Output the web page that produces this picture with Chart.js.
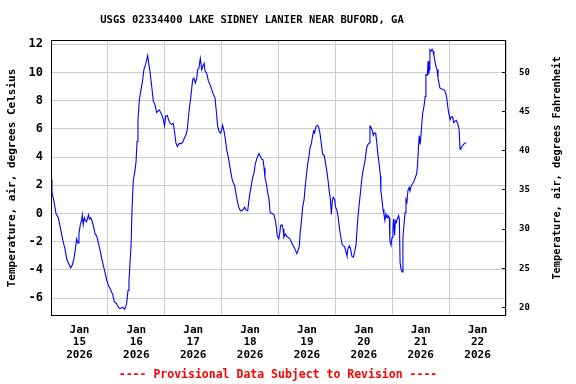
<!DOCTYPE html>
<html>
<head>
<meta charset="utf-8">
<script src="https://cdn.jsdelivr.net/npm/chart.js@4.4.1/dist/chart.umd.min.js"></script>
<style>
  html, body { margin: 0; padding: 0; background: #fff; }
  #wrap { width: 576px; height: 384px; }
</style>
</head>
<body>
<div id="wrap"><canvas id="tempChart" width="576" height="384"></canvas></div>
<script>
// Hours since Jan 15 2026 00:00 and air temperature (deg C)
const hours = [
  0, 0.4, 1.3, 2.1, 3.1, 3.8, 4.5, 5.2, 5.9, 6.6, 7.3, 8.3, 9.0, 9.7, 10.3, 10.8, 11.4, 11.8, 12.4, 12.9,
  13.2, 13.6, 14.1, 14.5, 15.0, 15.8, 16.2, 16.7, 17.3, 17.9, 18.6, 19.3, 20.0, 20.7, 21.4, 22.1, 22.8, 23.5,
  24.2, 24.9, 25.6, 26.0, 26.7, 27.7, 28.4, 29.1, 30.2, 31.1, 31.9, 32.5, 32.9, 33.3, 33.8, 34.2, 34.7, 35.4,
  35.9, 36.3, 36.7, 37.3, 38.0, 38.7, 39.2, 39.9, 40.4, 40.8, 41.4, 41.8, 42.5, 43.2, 43.9, 44.6, 45.1, 45.7,
  46.3, 47.0, 47.4, 47.9, 48.4, 49.1, 49.6, 50.2, 50.9, 51.6, 52.2, 52.7, 53.3, 54.0, 54.9, 55.6, 56.3, 57.0,
  57.5, 57.9, 58.4, 58.9, 59.4, 59.8, 60.3, 60.9, 61.5, 61.9, 62.4, 63.0, 63.6, 64.1, 64.6, 65.0, 65.7, 66.4,
  67.1, 67.8, 68.5, 69.2, 69.9, 70.3, 70.9, 71.5, 72.0, 72.4, 73.0, 73.6, 74.1, 74.7, 75.2, 75.8, 76.4, 76.9,
  77.5, 78.1, 78.6, 79.2, 79.9, 80.6, 81.2, 81.7, 82.3, 83.0, 83.5, 84.0, 84.5, 85.1, 85.7, 86.2, 86.8, 87.3,
  87.8, 88.3, 88.9, 89.5, 89.9, 90.3, 90.9, 91.4, 92.0, 92.5, 93.3, 94.1, 94.7, 95.1, 95.5, 96.1, 96.5, 96.9,
  97.5, 97.9, 98.3, 98.9, 99.4, 100.1, 100.8, 101.5, 102.3, 103.0, 103.7, 104.2, 104.8, 105.1, 105.6, 106.2,
  106.8, 107.3, 107.9, 108.3, 108.9, 109.3, 109.8, 110.4, 110.8, 111.2, 111.8, 112.4, 112.9, 113.5, 114.1,
  114.6, 115.3, 115.9, 116.5, 117.0, 117.4, 117.9, 118.3, 118.7, 119.1, 119.7, 120.1, 120.7, 121.2, 121.7,
  122.2, 122.8, 123.3, 123.9, 124.5, 124.9, 125.3, 125.9, 126.4, 127.0, 127.6, 128.1, 128.7, 129.1, 129.5,
  130.0, 130.4, 131.0, 131.5, 132.1, 132.6, 133.2, 133.8, 134.3, 134.6, 135.0, 135.6, 136.0, 136.4, 137.0,
  137.4, 138.0, 138.5, 139.0, 139.2, 139.7, 140.1, 140.5, 140.9, 141.3, 141.8, 142.2, 142.8, 143.0, 143.5,
  143.9, 144.3, 144.6, 145.0, 145.3, 145.7, 146.3, 146.7, 147.0, 147.3, 147.7, 148.2, 148.5, 149.0, 149.4,
  149.8, 150.2, 150.6, 151.1, 151.5, 152.0, 152.6, 153.2, 153.7, 154.3, 154.7, 155.1, 155.4, 155.8, 156.3,
  156.8, 157.4, 157.9, 158.2, 158.8, 159.1, 159.4, 159.6, 159.9, 160.3, 160.8, 161.2, 161.6, 162.0, 162.4,
  162.9, 163.3, 163.7, 164.1, 164.6, 165.3, 166.0, 166.5, 167.0, 167.4, 167.8, 168.4, 168.9, 169.5, 169.9,
  170.5, 171.0, 171.6, 172.2, 172.6, 173.0, 173.6, 174.1, 174.7, 175.2
];
const tempC = [
  2.4, 1.5, 0.8, 0.0, -0.3, -0.9, -1.5, -2.05, -2.5, -3.2, -3.5, -3.85, -3.65, -3.2, -2.5, -1.8, -2.1, -1.45, -0.75, -0.5,
  -0.1, -0.8, -0.3, -0.5, -0.6, -0.1, -0.4, -0.3, -0.5, -0.9, -1.45, -1.6, -2.1, -2.6, -3.2, -3.7, -4.2, -4.7,
  -5.1, -5.3, -5.6, -5.7, -6.25, -6.4, -6.65, -6.75, -6.65, -6.8, -6.4, -5.45, -4.9, -3.6, -2.2, 0.3, 2.3, 3.0,
  3.7, 5.1, 6.65, 8.1, 8.8, 9.5, 10.2, 10.55, 10.9, 11.2, 10.45, 10.0, 9.0, 7.95, 7.7, 7.15, 7.25, 7.35,
  7.15, 6.9, 6.65, 6.2, 6.9, 6.95, 6.65, 6.4, 6.3, 6.4, 5.7, 5.0, 4.75, 4.95, 4.95, 5.05, 5.35, 5.6,
  5.95, 6.65, 7.5, 8.1, 8.9, 9.5, 9.6, 9.25, 9.6, 10.2, 10.3, 11.0, 10.2, 10.45, 10.65, 10.1, 9.95, 9.4,
  9.15, 8.8, 8.45, 8.2, 7.0, 6.2, 5.85, 5.7, 5.9, 6.25, 5.85, 5.25, 4.55, 4.1, 3.6, 3.0, 2.45, 2.2,
  1.95, 1.35, 0.9, 0.45, 0.2, 0.2, 0.3, 0.45, 0.25, 0.2, 0.9, 1.5, 1.95, 2.55, 2.9, 3.5, 3.85, 4.1,
  4.25, 4.05, 3.85, 3.8, 3.25, 2.55, 2.1, 1.5, 1.0, 0.05, 0.0, -0.1, -0.5, -1.0, -1.6, -1.8, -1.45, -0.85,
  -0.8, -1.1, -1.7, -1.45, -1.6, -1.7, -1.8, -2.05, -2.3, -2.55, -2.85, -2.65, -2.3, -1.45, -0.65, 0.45,
  1.0, 1.95, 2.9, 3.5, 4.1, 4.65, 4.9, 5.5, 5.85, 5.7, 6.15, 6.25, 6.15, 5.7, 4.9,
  4.2, 4.1, 3.5, 2.9, 2.2, 1.6, 1.0, -0.05, 0.9, 1.15, 1.0, 0.45, 0.2, -0.3, -1.0,
  -1.6, -2.15, -2.3, -2.35, -2.75, -3.0, -2.5, -2.3, -2.5, -3.05, -3.1, -2.75, -2.25, -1.25, -0.3,
  0.55, 1.2, 2.2, 2.9, 3.35, 3.85, 4.65, 4.9, 5.0, 6.2, 6.15, 5.85, 5.55, 5.7, 5.7,
  5.15, 4.1, 3.5, 2.65, 1.6, 0.9, 0.3, -0.05, -0.5, -0.05, -0.3, -0.15, -0.3, -1.95, -2.25,
  -1.7, -1.1, -0.4, -1.55, -0.5, -0.65, -0.3, -0.15, -0.4, -3.45, -3.95, -4.15, -1.7, -0.75, 0.05,
  1.0, 0.8, 1.6, 1.85, 1.6, 1.95, 2.1, 2.3, 2.55, 2.8, 3.5, 4.8, 5.5, 4.9, 5.95,
  7.05, 7.6, 8.3, 9.85, 9.8, 10.8, 9.85, 10.2, 11.6, 11.5, 11.65, 11.5, 11.15, 10.8, 10.45,
  10.2, 9.6, 9.25, 8.9, 8.85, 8.8, 8.75, 8.55, 8.2, 7.6, 7.15, 6.65, 6.85, 6.85, 6.45,
  6.55, 6.6, 6.4, 5.95, 4.55, 4.65, 4.8, 4.9, 5.0, 5.0
];

// Axis labels
const dayLabels = ['15', '16', '17', '18', '19', '20', '21', '22'];
const monthLabel = 'Jan';
const yearLabel = '2026';
const titleText = 'USGS 02334400 LAKE SIDNEY LANIER NEAR BUFORD, GA';
const footerText = '---- Provisional Data Subject to Revision ----';
const leftTitle = 'Temperature, air, degrees Celsius';
const rightTitle = 'Temperature, air, degrees Fahrenheit';

const yMin = -7.2;
const yMax = 12.3;
const toF = c => c * 1.8 + 32;

const points = hours.map((h, i) => ({ x: h, y: tempC[i] }));
const mono = '"DejaVu Sans Mono", "Liberation Mono", monospace';

// Title, footer, rotated axis titles and the box round the plot
const decorations = {
    id: 'decorations',
    afterDraw(chart) {
        const { ctx, chartArea } = chart;
        ctx.save();
        ctx.strokeStyle = '#000';
        ctx.lineWidth = 1;
        ctx.strokeRect(chartArea.left + 0.5, chartArea.top + 0.5,
            chartArea.right - chartArea.left - 1, chartArea.bottom - chartArea.top);

        ctx.fillStyle = '#000';
        ctx.textAlign = 'center';
        ctx.textBaseline = 'middle';
        ctx.font = 'bold 10.5px ' + mono;
        ctx.fillText(titleText, 252, 20);

        ctx.fillStyle = '#ff0000';
        ctx.font = 'bold 11.5px ' + mono;
        ctx.fillText(footerText, 278, 375);

        ctx.fillStyle = '#000';
        ctx.font = 'bold 11px ' + mono;
        ctx.translate(12, 178);
        ctx.rotate(-Math.PI / 2);
        ctx.fillText(leftTitle, 0, 0);
        ctx.setTransform(1, 0, 0, 1, 0, 0);
        ctx.font = 'bold 10.3px ' + mono;
        ctx.translate(557, 168);
        ctx.rotate(-Math.PI / 2);
        ctx.fillText(rightTitle, 0, 0);
        ctx.restore();
    }
};

const ctx = document.getElementById('tempChart').getContext('2d');
const tempChart = new Chart(ctx, {
    type: 'line',
    data: {
        datasets: [{
            data: points,
            borderColor: '#0000ff',
            borderWidth: 1.1,
            pointRadius: 0,
            tension: 0,
            fill: false
        }]
    },
    options: {
        responsive: false,
        animation: false,
        events: [],
        layout: { padding: { top: 40, left: 0, right: 0, bottom: 0 } },
        plugins: {
            legend: { display: false },
            title: { display: false },
            tooltip: { enabled: false }
        },
        scales: {
            x: {
                type: 'linear',
                min: 0,
                max: 192,
                afterFit: s => { s.height = 69; },
                border: { display: false },
                grid: {
                    drawTicks: false,
                    color: c => (c.tick && c.tick.value % 24 === 0) ? '#cccccc' : 'rgba(0,0,0,0)'
                },
                ticks: {
                    stepSize: 12,
                    autoSkip: false,
                    maxRotation: 0,
                    padding: 9,
                    color: '#000',
                    font: { family: mono, size: 11, weight: 'bold', lineHeight: 1.12 },
                    callback: v => {
                        if (v % 24 !== 12) return '';
                        return [monthLabel, dayLabels[(v - 12) / 24], yearLabel];
                    }
                }
            },
            y: {
                position: 'left',
                min: yMin,
                max: yMax,
                afterFit: s => { s.width = 51; },
                border: { display: false },
                grid: { drawTicks: false, color: '#cccccc' },
                ticks: {
                    stepSize: 2,
                    includeBounds: false,
                    padding: 8,
                    color: '#000',
                    font: { family: mono, size: 12, weight: 'bold' }
                }
            },
            y2: {
                position: 'right',
                min: toF(yMin),
                max: toF(yMax),
                afterFit: s => { s.width = 70; },
                border: { display: false },
                grid: { drawOnChartArea: false, drawTicks: true, tickLength: -4, color: '#000' },
                ticks: {
                    stepSize: 5,
                    includeBounds: false,
                    padding: 17,
                    color: '#000',
                    font: { family: mono, size: 9, weight: 'bold' }
                }
            }
        }
    },
    plugins: [decorations]
});
</script>
</body>
</html>
